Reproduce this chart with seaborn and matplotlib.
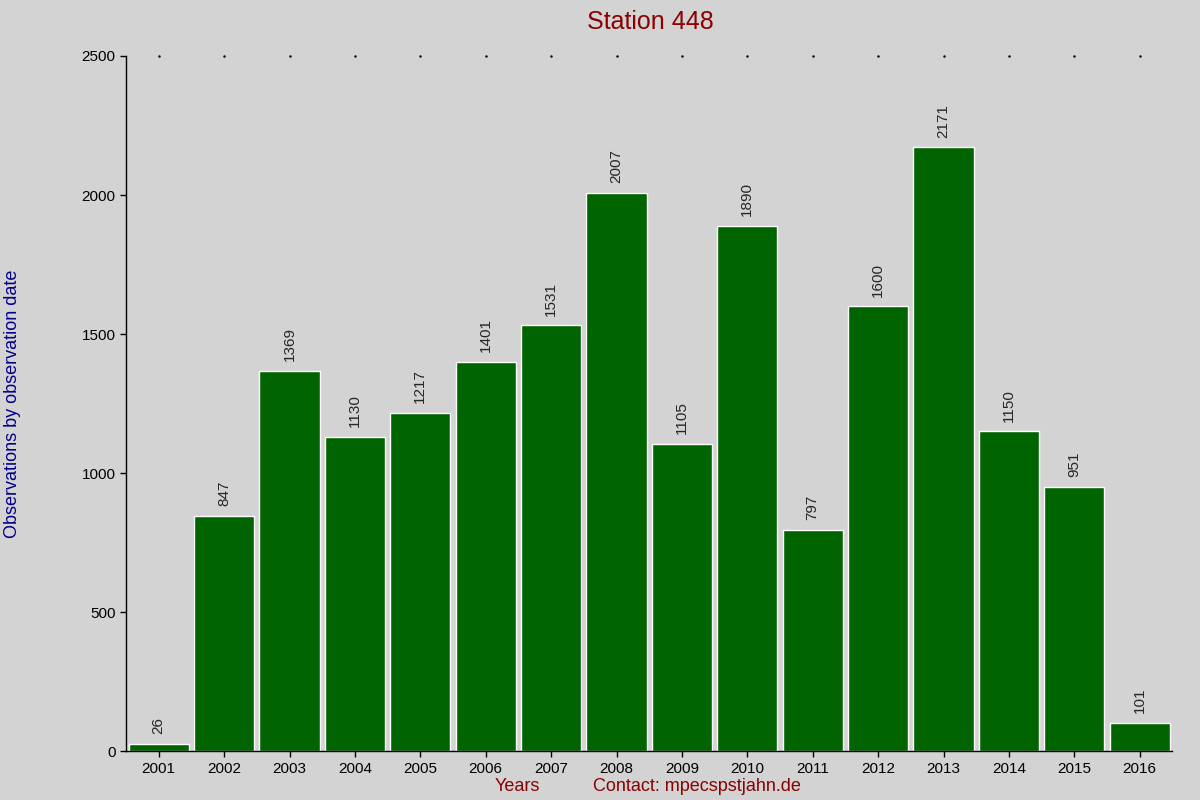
import matplotlib
matplotlib.use("Agg")
import matplotlib.pyplot as plt
import seaborn as sns
import pandas as pd

years = [str(y) for y in range(2001, 2017)]
values = [26, 847, 1369, 1130, 1217, 1401, 1531, 2007, 1105, 1890, 797, 1600, 2171, 1150, 951, 101]

sns.set_style("white")
plt.rcParams['font.family'] = ['Liberation Sans', 'DejaVu Sans']
bg = "#d3d3d3"
fig = plt.figure(figsize=(12, 8), dpi=100, facecolor=bg)
ax = fig.add_axes([0.105, 0.061, 0.872, 0.869], facecolor=bg)
df = pd.DataFrame({"year": years, "value": values})
sns.barplot(data=df, x="year", y="value", color="#006400", saturation=1, width=0.92, ax=ax)
ax.set_xlim(-0.5, 15.5)
ax.set_ylim(0, 2500)
ax.set_yticks(range(0, 2501, 500))
for s in ["top", "right"]:
    ax.spines[s].set_visible(False)
for s in ["left", "bottom"]:
    ax.spines[s].set_color("black")
    ax.spines[s].set_linewidth(1)
ax.tick_params(axis="both", labelsize=11, colors="black", length=4, width=1, left=True, bottom=True)
for i, v in enumerate(values):
    ax.text(i, v + 35, str(v), rotation=90, ha="center", va="bottom", fontsize=11)
for i in range(len(years)):
    ax.plot(i, 2500, marker=".", markersize=1.5, color="black", clip_on=False)
ax.set_xlabel("")
ax.set_ylabel("Observations by observation date", color="#00008b", fontsize=13)
ax.yaxis.set_label_coords(-0.1, 0.5)
fig.text(0.542, 0.973, "Station 448", ha="center", va="center", color="#8b0000", fontsize=18)
fig.text(0.431, 0.017, "Years", ha="center", va="center", color="#8b0000", fontsize=13)
fig.text(0.581, 0.017, "Contact: mpecspstjahn.de", ha="center", va="center", color="#8b0000", fontsize=13)
fig.savefig("out.png", facecolor=bg)
